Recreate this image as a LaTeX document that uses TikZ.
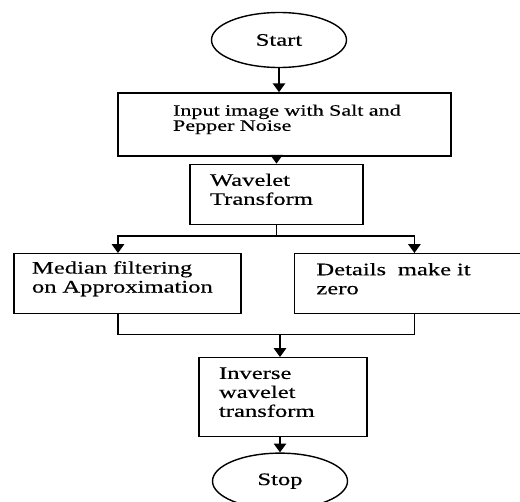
\documentclass[tikz,border=0pt]{standalone}
\usepackage{fontspec}
\setmainfont[FakeStretch=1.4,FakeBold=0.4]{Liberation Serif}
\usetikzlibrary{positioning,shapes,calc,arrows.meta}

\begin{document}
\begin{tikzpicture}[line width=0.8pt,>={Triangle[width=7pt,length=5pt]}]
\tikzstyle{every node}=[font=\fontsize{10pt}{10.8pt}\selectfont]
\tikzstyle{proc}=[rectangle,draw,align=left,inner ysep=0pt,execute at end node={\endgraf\vspace*{0.2cm}}]
\tikzstyle{term}=[ellipse,draw,inner sep=0pt,minimum width=2.7cm]
\useasboundingbox (0,0) rectangle (10.4,-10.02);
% start and the two first steps
\node[term,minimum height=1.1cm] (start) at (5.58,-0.8) {Start};
\node[proc,below=0.48cm of start,xshift=0.11cm,text width=4.66cm,inner xsep=1cm,minimum height=1.26cm,font=\fontsize{9pt}{8.6pt}\selectfont] (input) {\hspace*{0.1cm}Input image with Salt and\\\hspace*{0.1cm}Pepper Noise};
\node[proc,below=0.14cm of input,xshift=-0.16cm,text width=2.66cm,inner xsep=0.4cm,minimum height=1.2cm] (wavelet) {Wavelet\\Transform};
% the two branches
\node[proc,below=0.56cm of wavelet,xshift=-2.98cm,text width=3.82cm,inner xsep=0.36cm,minimum height=1.2cm] (median) {Median filtering\\on Approximation};
\node[proc,right=1.04cm of median,text width=3.64cm,inner xsep=0.44cm,minimum height=1.2cm] (details) {Details\ \ make it\\zero};
% back together
\node[proc,below=2.64cm of wavelet,xshift=0.13cm,text width=2.56cm,inner xsep=0.4cm,minimum height=1.58cm] (inverse) {Inverse\\wavelet\\transform};
\node[term,below=0.3cm of inverse,xshift=-0.06cm,minimum height=1.12cm] (stop) {Stop};
\coordinate[below=0.22cm of wavelet] (split);
\coordinate (join) at ([yshift=-0.4cm]median.south -| stop);
\draw[->] (start) -- (start |- input.north);
\draw[->] (input.south -| wavelet) -- (wavelet);
\draw (wavelet) -- (split);
\draw[->] (split) -| ([xshift=-0.19cm]median.north);
\draw[->] (split) -| ([xshift=0.14cm]details.north);
\draw ([xshift=-0.19cm]median.south) |- (join);
\draw ([xshift=0.14cm]details.south) |- (join);
\draw[->] (join) -- (join |- inverse.north);
\draw[->] (inverse.south -| stop) -- (stop);
\end{tikzpicture}
\end{document}
